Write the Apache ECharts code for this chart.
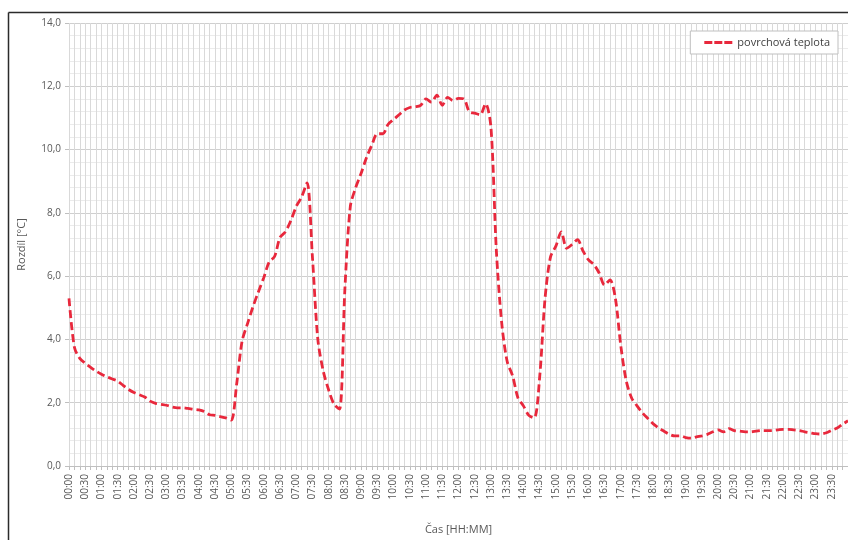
<!DOCTYPE html>
<html>
<head>
<meta charset="utf-8">
<script src="https://cdn.jsdelivr.net/npm/echarts@6/dist/echarts.min.js"></script>
<style>
html,body{margin:0;padding:0;background:#fff;}
#c{width:848px;height:540px;}
</style>
</head>
<body>
<div id="c"></div>
<script>
// 10-minute time categories 00:00 .. 24:00
var times = [];
for (var h = 0; h <= 24; h++) {
  for (var m = 0; m < 60; m += 10) {
    if (h === 24 && m > 0) break;
    times.push((h < 10 ? '0' : '') + h + ':' + (m === 0 ? '00' : m));
  }
}
var seriesName = 'povrchová teplota';
var yTicks = [0, 2, 4, 6, 8, 10, 12, 14];
// surface temperature difference [°C], read every 10 minutes
var values = [
  5.3, 3.75, 3.4, 3.25, 3.12, 3.0, 2.9, 2.82, 2.75, 2.68,
  2.55, 2.42, 2.32, 2.25, 2.18, 2.05, 1.98, 1.95, 1.92, 1.87,
  1.84, 1.84, 1.82, 1.79, 1.77, 1.72, 1.62, 1.6, 1.56, 1.52,
  1.45, 2.6, 3.95, 4.5, 5.03, 5.5, 5.95, 6.45, 6.62, 7.22,
  7.4, 7.75, 8.2, 8.5, 8.95, 6.6, 4.0, 3.0, 2.4, 1.95,
  1.8, 5.6, 8.2, 8.8, 9.25, 9.75, 10.15, 10.5, 10.5, 10.8,
  10.95, 11.1, 11.25, 11.33, 11.35, 11.4, 11.6, 11.5, 11.72, 11.4,
  11.65, 11.55, 11.62, 11.6, 11.2, 11.15, 11.1, 11.45, 10.7, 6.8,
  4.5, 3.3, 2.85, 2.15, 1.9, 1.6, 1.52, 2.8, 5.3, 6.6,
  6.95, 7.4, 6.88, 7.0, 7.15, 6.8, 6.52, 6.37, 6.1, 5.72,
  5.88, 5.3, 3.8, 2.7, 2.15, 1.9, 1.68, 1.5, 1.33, 1.2,
  1.1, 1.0, 0.95, 0.95, 0.9, 0.88, 0.92, 0.95, 1.0, 1.08,
  1.14, 1.08, 1.18, 1.12, 1.1, 1.08, 1.08, 1.1, 1.12, 1.12,
  1.12, 1.14, 1.16, 1.16, 1.14, 1.12, 1.08, 1.05, 1.02, 1.01,
  1.05, 1.13, 1.2, 1.32, 1.43
];

var chart = echarts.init(document.getElementById('c'), null, {renderer: 'canvas'});
var txt = '#595959';
var red = '#e8283c';
var font = 'Open Sans';
chart.setOption({
  animation: false,
  backgroundColor: '#fff',
  textStyle: {fontFamily: font},
  grid: {left: 69, right: -1, top: 23, bottom: 74, containLabel: false},
  legend: {
    show: true,
    data: [{name: seriesName, icon: 'path://M0,0h8v3h-8z M10,0h8v3h-8z M20,0h8v3h-8z'}],
    right: 10,
    top: 31,
    backgroundColor: '#fff',
    borderColor: '#bfbfbf',
    borderWidth: 1,
    padding: [6, 8, 6, 14],
    itemWidth: 28,
    itemHeight: 3,
    itemGap: 5,
    itemStyle: {color: red},
    textStyle: {color: '#404040', fontSize: 11, fontFamily: font}
  },
  xAxis: {
    type: 'category',
    data: times,
    boundaryGap: false,
    name: 'Čas [HH:MM]',
    nameLocation: 'middle',
    nameGap: 58,
    nameTextStyle: {color: txt, fontSize: 11, fontFamily: font},
    axisLine: {show: true, lineStyle: {color: '#bfbfbf', width: 1}},
    axisTick: {show: true, interval: 0, length: 4, lineStyle: {color: '#bfbfbf'}},
    axisLabel: {
      interval: function (idx) { return idx % 3 === 0 && idx < times.length - 1; },
      rotate: 90,
      color: txt,
      fontSize: 10,
      margin: 8,
      fontFamily: font
    },
    splitLine: {show: true, interval: 0, lineStyle: {color: '#d9d9d9', width: 1}}
  },
  yAxis: {
    type: 'value',
    min: yTicks[0],
    max: yTicks[yTicks.length - 1],
    interval: 2,
    name: 'Rozdíl [°C]',
    nameLocation: 'middle',
    nameRotate: 90,
    nameGap: 42,
    nameTextStyle: {color: txt, fontSize: 11, fontFamily: font},
    axisLine: {show: false},
    axisTick: {show: true, length: 4, lineStyle: {color: '#bfbfbf'}},
    axisLabel: {
      color: txt, fontSize: 10, margin: 8, fontFamily: font,
      formatter: function (v) { return v.toFixed(1).replace('.', ','); }
    },
    splitLine: {show: true, lineStyle: {color: '#cfcfcf', width: 1}},
    minorTick: {show: false, splitNumber: 5},
    minorSplitLine: {show: true, lineStyle: {color: '#ebebeb', width: 1}}
  },
  series: [{
    name: seriesName,
    type: 'line',
    data: values,
    symbol: 'none',
    smooth: 0.3,
    lineStyle: {color: red, width: 2.8, type: [8, 4]},
    itemStyle: {color: red},
    clip: true
  }],
  graphic: [
    {type: 'line', shape: {x1: 8.5, y1: 12.5, x2: 848, y2: 12.5}, style: {stroke: '#2b2b2b', lineWidth: 1.5}, silent: true},
    {type: 'line', shape: {x1: 8.5, y1: 12.5, x2: 8.5, y2: 540}, style: {stroke: '#2b2b2b', lineWidth: 1.5}, silent: true}
  ]
});
</script>
</body>
</html>
